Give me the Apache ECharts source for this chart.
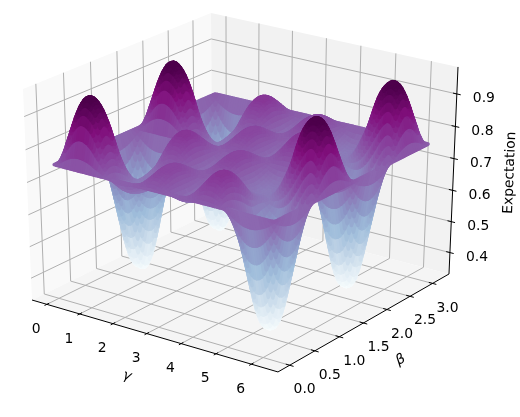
<!DOCTYPE html>
<html>
<head>
<meta charset="utf-8">
<style>
  html, body { margin: 0; padding: 0; background: #fff; }
  #chart { width: 520px; height: 417px; }
</style>
<script src="https://cdn.jsdelivr.net/npm/echarts@6/dist/echarts.min.js"></script>
</head>
<body>
<div id="chart"></div>
<script>
// grid of the surface
const gammaValues = [0, 0.196, 0.393, 0.589, 0.785, 0.982, 1.178, 1.374, 1.571, 1.767, 1.963, 2.16, 2.356, 2.553, 2.749, 2.945, 3.142,
  3.338, 3.534, 3.731, 3.927, 4.123, 4.32, 4.516, 4.712, 4.909, 5.105, 5.301, 5.498, 5.694, 5.89, 6.087, 6.283]
const betaValues = [0, 0.131, 0.262, 0.393, 0.524, 0.654, 0.785, 0.916, 1.047, 1.178, 1.309, 1.44, 1.571,
  1.702, 1.833, 1.963, 2.094, 2.225, 2.356, 2.487, 2.618, 2.749, 2.88, 3.011, 3.142]
// one row per beta, one column per gamma
const expectation = [
  [.75,.75,.75,.75,.75,.75,.75,.75,.75,.75,.75,.75,.75,.75,.75,.75,.75,.75,.75,.75,.75,.75,.75,.75,.75,.75,.75,.75,.75,.75,.75,.75,.75],
  [.75,.81,.856,.878,.876,.853,.809,.77,.734,.718,.714,.722,.74,.76,.77,.765,.75,.735,.73,.74,.76,.777,.784,.778,.759,.715,.669,.618,.596,.601,.633,.686,.75],
  [.75,.851,.915,.94,.932,.9,.829,.77,.717,.705,.7,.71,.733,.767,.785,.776,.75,.724,.715,.733,.767,.796,.807,.795,.757,.675,.587,.492,.456,.47,.535,.636,.75],
  [.75,.862,.922,.937,.92,.877,.805,.75,.707,.697,.697,.706,.73,.77,.79,.78,.75,.72,.71,.73,.77,.803,.813,.795,.745,.64,.525,.406,.377,.394,.484,.613,.75],
  [.75,.839,.878,.872,.837,.791,.744,.715,.7,.698,.699,.71,.733,.767,.785,.776,.75,.724,.715,.733,.767,.794,.8,.78,.727,.62,.502,.384,.372,.391,.492,.624,.75],
  [.75,.789,.78,.741,.696,.665,.661,.675,.7,.706,.71,.718,.74,.76,.77,.765,.75,.735,.73,.74,.76,.773,.771,.752,.706,.62,.521,.43,.417,.464,.558,.665,.75],
  [.75,.725,.663,.592,.543,.533,.58,.64,.705,.72,.735,.745,.75,.75,.75,.75,.75,.75,.75,.75,.75,.745,.735,.72,.705,.64,.58,.533,.543,.592,.663,.725,.75],
  [.75,.665,.558,.464,.417,.43,.521,.62,.706,.752,.771,.773,.76,.74,.73,.735,.75,.765,.77,.76,.74,.718,.71,.706,.7,.675,.661,.665,.696,.741,.78,.789,.75],
  [.75,.624,.492,.391,.372,.384,.502,.62,.727,.78,.8,.794,.767,.733,.715,.724,.75,.776,.785,.767,.733,.71,.699,.698,.7,.715,.744,.791,.837,.872,.878,.839,.75],
  [.75,.613,.484,.394,.377,.406,.525,.64,.745,.795,.813,.803,.77,.73,.71,.72,.75,.78,.79,.77,.73,.706,.697,.697,.707,.75,.805,.877,.92,.937,.922,.862,.75],
  [.75,.636,.535,.47,.456,.492,.587,.675,.757,.795,.807,.796,.767,.733,.715,.724,.75,.776,.785,.767,.733,.71,.7,.705,.717,.77,.829,.9,.932,.94,.915,.851,.75],
  [.75,.686,.633,.601,.596,.618,.669,.715,.759,.778,.784,.777,.76,.74,.73,.735,.75,.765,.77,.76,.74,.722,.714,.718,.734,.77,.809,.853,.876,.878,.856,.81,.75],
  [.75,.75,.75,.75,.75,.75,.75,.75,.75,.75,.75,.75,.75,.75,.75,.75,.75,.75,.75,.75,.75,.75,.75,.75,.75,.75,.75,.75,.75,.75,.75,.75,.75],
  [.75,.81,.856,.878,.876,.853,.809,.77,.734,.718,.714,.722,.74,.76,.77,.765,.75,.735,.73,.74,.76,.777,.784,.778,.759,.715,.669,.618,.596,.601,.633,.686,.75],
  [.75,.851,.915,.94,.932,.9,.829,.77,.717,.705,.7,.71,.733,.767,.785,.776,.75,.724,.715,.733,.767,.796,.807,.795,.757,.675,.587,.492,.456,.47,.535,.636,.75],
  [.75,.862,.922,.937,.92,.877,.805,.75,.707,.697,.697,.706,.73,.77,.79,.78,.75,.72,.71,.73,.77,.803,.813,.795,.745,.64,.525,.406,.377,.394,.484,.613,.75],
  [.75,.839,.878,.872,.837,.791,.744,.715,.7,.698,.699,.71,.733,.767,.785,.776,.75,.724,.715,.733,.767,.794,.8,.78,.727,.62,.502,.384,.372,.391,.492,.624,.75],
  [.75,.789,.78,.741,.696,.665,.661,.675,.7,.706,.71,.718,.74,.76,.77,.765,.75,.735,.73,.74,.76,.773,.771,.752,.706,.62,.521,.43,.417,.464,.558,.665,.75],
  [.75,.725,.663,.592,.543,.533,.58,.64,.705,.72,.735,.745,.75,.75,.75,.75,.75,.75,.75,.75,.75,.745,.735,.72,.705,.64,.58,.533,.543,.592,.663,.725,.75],
  [.75,.665,.558,.464,.417,.43,.521,.62,.706,.752,.771,.773,.76,.74,.73,.735,.75,.765,.77,.76,.74,.718,.71,.706,.7,.675,.661,.665,.696,.741,.78,.789,.75],
  [.75,.624,.492,.391,.372,.384,.502,.62,.727,.78,.8,.794,.767,.733,.715,.724,.75,.776,.785,.767,.733,.71,.699,.698,.7,.715,.744,.791,.837,.872,.878,.839,.75],
  [.75,.613,.484,.394,.377,.406,.525,.64,.745,.795,.813,.803,.77,.73,.71,.72,.75,.78,.79,.77,.73,.706,.697,.697,.707,.75,.805,.877,.92,.937,.922,.862,.75],
  [.75,.636,.535,.47,.456,.492,.587,.675,.757,.795,.807,.796,.767,.733,.715,.724,.75,.776,.785,.767,.733,.71,.7,.705,.717,.77,.829,.9,.932,.94,.915,.851,.75],
  [.75,.686,.633,.601,.596,.618,.669,.715,.759,.778,.784,.777,.76,.74,.73,.735,.75,.765,.77,.76,.74,.722,.714,.718,.734,.77,.809,.853,.876,.878,.856,.81,.75],
  [.75,.75,.75,.75,.75,.75,.75,.75,.75,.75,.75,.75,.75,.75,.75,.75,.75,.75,.75,.75,.75,.75,.75,.75,.75,.75,.75,.75,.75,.75,.75,.75,.75]
]
// tick labels
const gammaTicks = [0, 1, 2, 3, 4, 5, 6]
const betaTicks = ['0.0', '0.5', '1.0', '1.5', '2.0', '2.5', '3.0']
const expectationTicks = ['0.4', '0.5', '0.6', '0.7', '0.8', '0.9']

// axis limits of the box
const gammaLim = [-0.458, 6.741]
const betaLim = [-0.229, 3.371]
const expLim = [0.33, 0.982]
// BuPu
const bupu = ['#f7fcfd', '#e0ecf4', '#bfd3e6', '#9ebcda', '#8c96c6', '#8c6bb1', '#88419d', '#810f7c', '#4d004b']
const colorMin = 0.372
const colorMax = 0.94
const colorLevels = 120
// how many pieces one table cell is drawn with, smooths the facets like smooth:true on a line
const cellPieces = 3

const fontFamily = '"DejaVu Sans"'
const gridColor = '#b0b0b0'

function toBox(g, b, e) {
  return [(g - gammaLim[0]) / (gammaLim[1] - gammaLim[0]),
    (b - betaLim[0]) / (betaLim[1] - betaLim[0]),
    (e - expLim[0]) / (expLim[1] - expLim[0])]
}
function depth(x, y, z) {
  return 1 - 0.0531 * x + 0.0765 * y - 0.0419 * z
}
// camera fitted on the corners of the box, box coords to plane coords
function boxToPlane(x, y, z) {
  const w = depth(x, y, z)
  return [(32 + 231.2 * x + 196.3 * y - 9.96 * z) / w, (300 + 52.2 * x - 71.8 * y - 214.7 * z) / w]
}
function project(g, b, e) {
  const p = toBox(g, b, e)
  return boxToPlane(p[0], p[1], p[2])
}

function spline(p0, p1, p2, p3, t) {
  return 0.5 * (2 * p1 + (p2 - p0) * t + (2 * p0 - 5 * p1 + 4 * p2 - p3) * t * t + (3 * p1 - p0 - 3 * p2 + p3) * t * t * t)
}
function clampIndex(n, len) {
  return Math.max(0, Math.min(len - 1, n))
}
// smooth surface position between table values, m and n in table indices
function surfacePoint(m, n) {
  const i = Math.min(Math.floor(m), betaValues.length - 2)
  const j = Math.min(Math.floor(n), gammaValues.length - 2)
  const rows = []
  for (let r = -1; r <= 2; r++) {
    const row = expectation[clampIndex(i + r, betaValues.length)]
    rows.push(spline(row[clampIndex(j - 1, gammaValues.length)], row[j], row[j + 1], row[clampIndex(j + 2, gammaValues.length)], n - j))
  }
  const e = spline(rows[0], rows[1], rows[2], rows[3], m - i)
  const g = gammaValues[j] + (gammaValues[j + 1] - gammaValues[j]) * (n - j)
  const b = betaValues[i] + (betaValues[i + 1] - betaValues[i]) * (m - i)
  return { g, b, e }
}

// pieces of the surface, painted from the low levels up like the contour levels are
const pieces = []
for (let m = 0; m < (betaValues.length - 1) * cellPieces; m++) {
  for (let n = 0; n < (gammaValues.length - 1) * cellPieces; n++) {
    const pts = [[m, n], [m, n + 1], [m + 1, n + 1], [m + 1, n]].map((q) => surfacePoint(q[0] / cellPieces, q[1] / cellPieces))
    const e = (pts[0].e + pts[1].e + pts[2].e + pts[3].e) / 4
    const t = Math.max(0, Math.min(1, (e - colorMin) / (colorMax - colorMin)))
    const level = Math.round(t * colorLevels)
    pieces.push({ pts, e, level })
  }
}
pieces.sort((p, q) => p.e - q.e)

function line3d(api, pts, color, width) {
  return {
    type: 'polyline',
    shape: { points: pts.map((p) => api.coord(boxToPlane(p[0], p[1], p[2]))) },
    style: { stroke: color, lineWidth: width, fill: null }
  }
}

function label(api, pos, dx, dy, text, rotation, style) {
  const c = api.coord(pos)
  return {
    type: 'text',
    x: c[0] + dx,
    y: c[1] + dy,
    rotation: rotation || 0,
    style: Object.assign({
      text: String(text),
      fill: '#000',
      font: '13.9px ' + fontFamily,
      textAlign: 'center',
      textVerticalAlign: 'middle'
    }, style || {})
  }
}

function renderPanes(params, api) {
  const pane = (pts, fill) => ({
    type: 'polygon',
    shape: { points: pts.map((p) => api.coord(boxToPlane(p[0], p[1], p[2]))) },
    style: { fill: fill }
  })
  const children = [
    pane([[0, 0, 0], [0, 1, 0], [0, 1, 1], [0, 0, 1]], '#f9f9f9'),
    pane([[0, 1, 0], [1, 1, 0], [1, 1, 1], [0, 1, 1]], '#f2f2f2'),
    pane([[0, 0, 0], [1, 0, 0], [1, 1, 0], [0, 1, 0]], '#f5f5f5')
  ]
  gammaTicks.forEach((t) => {
    const x = toBox(t, 0, 0)[0]
    children.push(line3d(api, [[x, 0, 0], [x, 1, 0], [x, 1, 1]], gridColor, 1))
  })
  betaTicks.forEach((t) => {
    const y = toBox(0, +t, 0)[1]
    children.push(line3d(api, [[1, y, 0], [0, y, 0], [0, y, 1]], gridColor, 1))
  })
  expectationTicks.forEach((t) => {
    const z = toBox(0, 0, +t)[2]
    children.push(line3d(api, [[0, 0, z], [0, 1, z], [1, 1, z]], gridColor, 1))
  })
  return { type: 'group', children }
}

function renderSurface(params, api) {
  const piece = pieces[params.dataIndex]
  const color = echarts.color.lerp(piece.level / colorLevels, bupu)
  return {
    type: 'polygon',
    shape: { points: piece.pts.map((p) => api.coord(project(p.g, p.b, p.e))) },
    style: { fill: color, stroke: color, lineWidth: 3.5, lineJoin: 'round' }
  }
}

function renderAxes(params, api) {
  const children = [
    line3d(api, [[0, 0, 0], [1, 0, 0], [1, 1, 0], [1, 1, 1]], '#000', 1)
  ]
  gammaTicks.forEach((t) => {
    const x = toBox(t, 0, 0)[0]
    children.push(line3d(api, [[x, -0.012, 0], [x, 0.012, 0]], '#000', 1))
    children.push(label(api, boxToPlane(x, 0, 0), -10.7, 25, t))
  })
  betaTicks.forEach((t) => {
    const y = toBox(0, +t, 0)[1]
    children.push(line3d(api, [[1.015, y, 0], [0.985, y, 0]], '#000', 1))
    children.push(label(api, boxToPlane(1, y, 0), 15, 24.5, t))
  })
  expectationTicks.forEach((t) => {
    const z = toBox(0, 0, +t)[2]
    children.push(line3d(api, [[0.985, 1, z], [1.015, 1, z]], '#000', 1))
    children.push(label(api, boxToPlane(1, 1, z), 27, 4.7, t))
  })
  children.push(label(api, [127, 376], 0, 0, 'γ', -0.3, { font: 'italic 13.9px ' + fontFamily }))
  children.push(label(api, [400.7, 360], 0, 0, 'β', 0.5, { font: 'italic 13.9px ' + fontFamily }))
  children.push(label(api, [510, 172.7], 0, 0, 'Expectation', Math.PI / 2 - 0.04))
  return { type: 'group', children }
}

const chart = echarts.init(document.getElementById('chart'), null, { renderer: 'canvas' })
chart.setOption({
  animation: false,
  backgroundColor: '#fff',
  grid: { left: 0, right: 0, top: 0, bottom: 0 },
  // plain plane that the camera projects on
  xAxis: { type: 'value', min: 0, max: 520, show: false },
  yAxis: { type: 'value', min: 0, max: 417, inverse: true, show: false },
  series: [
    { type: 'custom', coordinateSystem: 'cartesian2d', clip: false, silent: true, data: [[0, 0]], renderItem: renderPanes },
    { type: 'custom', coordinateSystem: 'cartesian2d', clip: false, silent: true, progressive: 0, data: pieces.map((p, idx) => [idx, p.e]), renderItem: renderSurface },
    { type: 'custom', coordinateSystem: 'cartesian2d', clip: false, silent: true, data: [[0, 0]], renderItem: renderAxes }
  ]
})
</script>
</body>
</html>
